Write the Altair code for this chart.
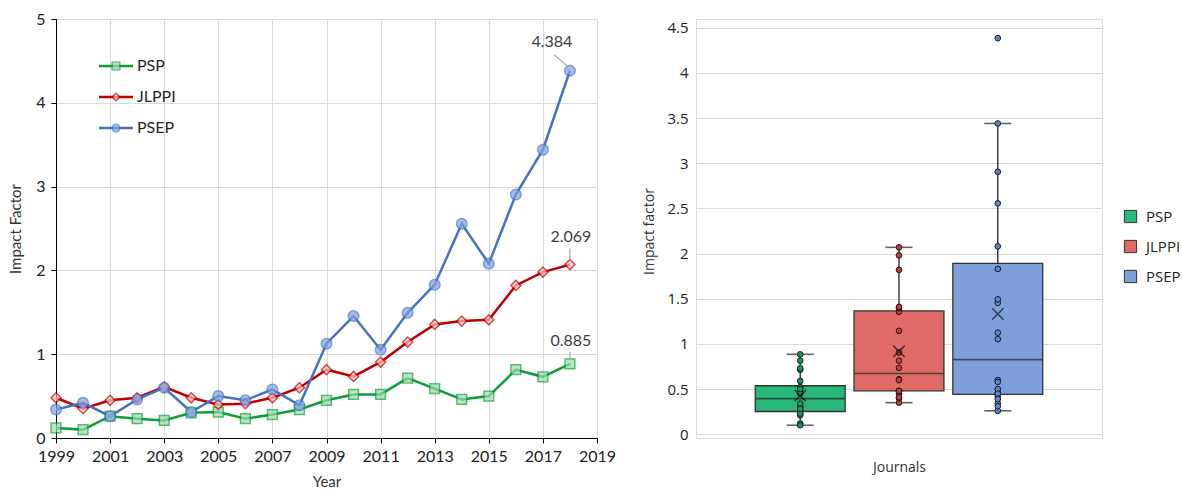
import altair as alt
import pandas as pd
import numpy as np

years = list(range(1999, 2019))
series = ["PSP", "JLPPI", "PSEP"]
psp = [0.12, 0.10, 0.26, 0.23, 0.21, 0.30, 0.31, 0.23, 0.28, 0.34,
       0.45, 0.52, 0.52, 0.715, 0.59, 0.46, 0.50, 0.815, 0.73, 0.885]
jlppi = [0.48, 0.35, 0.45, 0.48, 0.61, 0.48, 0.40, 0.41, 0.48, 0.60,
         0.815, 0.735, 0.906, 1.145, 1.355, 1.395, 1.41, 1.82, 1.98, 2.069]
psep = [0.34, 0.42, 0.26, 0.46, 0.60, 0.31, 0.50, 0.45, 0.58, 0.39,
        1.125, 1.455, 1.053, 1.494, 1.83, 2.556, 2.08, 2.905, 3.44, 4.384]
x_ticks = list(range(1999, 2020, 2))
y_ticks_left = [0, 1, 2, 3, 4, 5]
y_ticks_right = [0, 0.5, 1, 1.5, 2, 2.5, 3, 3.5, 4, 4.5]

line_colors = ["#0f9d3c", "#c00000", "#4472c4"]
marker_fills = ["#9fd8ae", "#f6c6c6", "#7fa2dc"]
box_colors = ["#2ab77b", "#e06b66", "#7f9fdb"]
dot_colors = ["#1c9a58", "#cc3a36", "#5f86cc"]

long = pd.DataFrame({
    "year": years * 3,
    "value": psp + jlppi + psep,
    "series": sum([[s] * len(years) for s in series], []),
})

FONT_L = "Lato"
FONT_R = "Open Sans"

stroke_scale = alt.Scale(domain=series, range=line_colors)
fill_scale = alt.Scale(domain=series, range=marker_fills)
shape_scale = alt.Scale(domain=series, range=["square", "diamond", "circle"])

xenc = alt.X("year:Q", scale=alt.Scale(domain=[1999, 2019], nice=False, zero=False),
             axis=alt.Axis(values=x_ticks, format="d", title="Year", labelFont=FONT_L,
                           labelFontSize=16, labelColor="#222", titleFont=FONT_L,
                           titleFontSize=15, titleFontWeight="normal", titleColor="#333",
                           domainColor="#000", tickColor="#000", tickSize=5,
                           labelFlush=False, labelOverlap=False,
                           gridColor="#d9d9d9", labelPadding=5, titlePadding=10))
yenc = alt.Y("value:Q", scale=alt.Scale(domain=[0, 5], nice=False),
             axis=alt.Axis(values=y_ticks_left, format="d", title="Impact Factor",
                           labelFont=FONT_L, labelFlush=False,
                           labelFontSize=16, labelColor="#222", titleFont=FONT_L,
                           titleFontSize=15, titleFontWeight="normal", titleColor="#333",
                           domainColor="#000", tickColor="#000", tickSize=5,
                           gridColor="#d9d9d9", labelPadding=6, titlePadding=12))

base = alt.Chart(long).encode(x=xenc, y=yenc)
lines = base.mark_line(strokeWidth=2.5).encode(
    stroke=alt.Stroke("series:N", scale=stroke_scale, legend=None))
points = base.mark_point(filled=True, strokeWidth=1.5).encode(
    stroke=alt.Stroke("series:N", scale=stroke_scale, legend=None),
    fill=alt.Fill("series:N", scale=fill_scale, legend=None),
    shape=alt.Shape("series:N", scale=shape_scale, legend=None),
    size=alt.Size("series:N", scale=alt.Scale(domain=series, range=[95, 110, 140]), legend=None),
)

last = long[long["year"] == years[-1]]
ann_layers = []
offsets = {"PSEP": (-18, -29, -3, -5, -16, -16),
           "JLPPI": (1, -28, 0, -5, 0, -16),
           "PSP": (1, -23, 0, -4, 0, -12)}
for s in series:
    dx, dy, x1, y1, x2, y2 = offsets[s]
    sub = alt.Chart(last).transform_filter(alt.datum.series == s)
    ann_layers.append(sub.mark_rule(color="#a6a6a6", strokeWidth=1.2, xOffset=x1, yOffset=y1,
                                    x2Offset=x2, y2Offset=y2).encode(
        x="year:Q", y="value:Q", x2="year:Q", y2="value:Q"))
    ann_layers.append(sub.mark_text(dx=dx, dy=dy, font=FONT_L, fontSize=16, color="#404040").encode(
        x="year:Q", y="value:Q", text=alt.Text("value:Q", format=".3f")))

data_layer = alt.layer(lines, points, *ann_layers)

leg_df = pd.DataFrame({"series": series})
leg_y = alt.Y("series:N", scale=alt.Scale(domain=series, type="point", range=[47, 109], padding=0),
              axis=None)
leg_base = alt.Chart(leg_df).encode(y=leg_y)
leg_rule = leg_base.mark_rule(strokeWidth=2.5).encode(
    x=alt.value(43), x2=alt.value(77),
    stroke=alt.Stroke("series:N", scale=stroke_scale, legend=None))
leg_pts = leg_base.mark_point(filled=True, strokeWidth=1.3, size=60).encode(
    x=alt.value(60),
    stroke=alt.Stroke("series:N", scale=stroke_scale, legend=None),
    fill=alt.Fill("series:N", scale=fill_scale, legend=None),
    shape=alt.Shape("series:N", scale=shape_scale, legend=None))
leg_txt = leg_base.mark_text(align="left", baseline="middle", font=FONT_L, fontSize=16,
                             color="#262626").encode(x=alt.value(81), text="series:N")
legend_layer = alt.layer(leg_rule, leg_pts, leg_txt)

left = alt.layer(data_layer, legend_layer).resolve_scale(y="independent").properties(
    width=541, height=419)

# ---- box plot panel ----
rows = []
for name, vals in zip(series, [psp, jlppi, psep]):
    a = np.array(vals)
    q1, med, q3 = np.percentile(a, [25, 50, 75])
    iqr = q3 - q1
    lo = a[a >= q1 - 1.5 * iqr].min()
    hi = a[a <= q3 + 1.5 * iqr].max()
    rows.append(dict(journal=name, q1=q1, median=med, q3=q3, lo=lo, hi=hi, mean=a.mean()))
stats = pd.DataFrame(rows)
pts = pd.DataFrame({"journal": long["series"], "dotgroup": long["series"], "value": long["value"]})

bx = alt.X("journal:N", sort=series,
           scale=alt.Scale(domain=series, paddingInner=0.09, paddingOuter=0.6),
           axis=alt.Axis(title="Journals", labels=False, ticks=False, domain=False,
                         titleFont=FONT_R, titleFontSize=14, titleFontWeight="normal",
                         titleColor="#333", titlePadding=22))
yscale_r = alt.Scale(domain=[0, 4.5], range=[415.3, 8.7], nice=False)
by_axis = alt.Axis(values=y_ticks_right, format="~g", title="Impact factor", ticks=False,
                   domainColor="#d9d9d9", gridColor="#d9d9d9", labelFont=FONT_R,
                   labelFontSize=15, labelColor="#222", titleFont=FONT_R, titleFontSize=14,
                   titleFontWeight="normal", titleColor="#333", labelPadding=8, titlePadding=10)

sb = alt.Chart(stats).encode(x=bx)
whisk = sb.mark_rule(color="#222", strokeWidth=1.3).encode(
    y=alt.Y("lo:Q", scale=yscale_r, axis=by_axis), y2="hi:Q")
box = sb.mark_bar(stroke="#333", strokeWidth=1.3).encode(
    y=alt.Y("q1:Q", scale=yscale_r, axis=by_axis), y2="q3:Q",
    color=alt.Color("journal:N", scale=alt.Scale(domain=series, range=box_colors),
                    legend=alt.Legend(title=None, orient="none", legendX=427, legendY=190,
                                      symbolType="square", symbolSize=150,
                                      symbolStrokeColor="#333", symbolStrokeWidth=1,
                                      symbolOpacity=1, labelFont=FONT_R, labelFontSize=15,
                                      labelColor="#222", rowPadding=13, labelOffset=8)))
med = sb.mark_tick(color="#222", thickness=1.6, size=89).encode(y=alt.Y("median:Q", scale=yscale_r))
cap_lo = sb.mark_tick(color="#222", thickness=1.6, size=27).encode(y=alt.Y("lo:Q", scale=yscale_r))
cap_hi = sb.mark_tick(color="#222", thickness=1.6, size=27).encode(y=alt.Y("hi:Q", scale=yscale_r))
dots = alt.Chart(pts).mark_point(filled=True, size=32, stroke="#1a1a1a", strokeWidth=1,
                                 opacity=1).encode(
    x=bx, y=alt.Y("value:Q", scale=yscale_r),
    fill=alt.Fill("dotgroup:N", scale=alt.Scale(domain=series, range=dot_colors), legend=None))
mean = sb.mark_point(shape="M-1,-1L1,1M-1,1L1,-1", filled=False, stroke="#111",
                     strokeWidth=1.5, size=130).encode(y=alt.Y("mean:Q", scale=yscale_r))

right = alt.layer(whisk, box, med, cap_lo, cap_hi, dots, mean).properties(width=406, height=419)

chart = alt.hconcat(left, right, spacing=25).resolve_scale(
    color="independent", fill="independent", stroke="independent",
    shape="independent", size="independent"
).resolve_legend(color="independent", fill="independent").properties(
    padding={"left": 8, "top": 10, "right": 0, "bottom": 0}
).configure_view(stroke=None).configure(background="white")

chart.save("out.html", embed_options={"renderer": "svg", "actions": False})
